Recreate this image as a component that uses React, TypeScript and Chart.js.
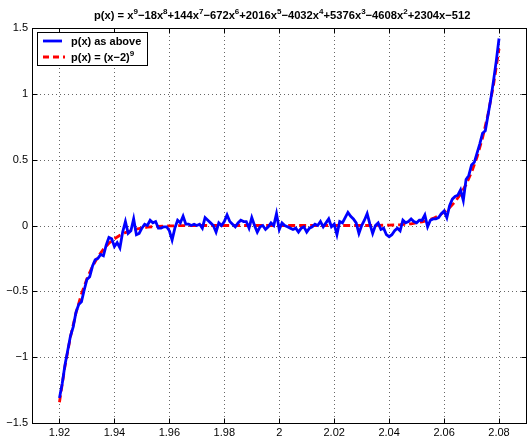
import React, { useEffect, useRef } from "react";
import { Chart, registerables } from "chart.js";

Chart.register(...registerables);

// ---- data ----
const X_START = 1.92;
const X_STEP = 0.001;
const BLUE_VALUES = [
  -1.31, -1.2, -1.06, -0.95, -0.84, -0.77, -0.66, -0.6, -0.58, -0.49,
  -0.41, -0.39, -0.31, -0.26, -0.25, -0.22, -0.23, -0.15, -0.09, -0.1,
  -0.16, -0.13, -0.17, -0.05, 0.03, -0.06, -0.04, 0.05, -0.07, -0.06,
  -0.02, 0.01, 0.0, 0.04, 0.02, 0.03, -0.02, -0.02, -0.01, -0.01,
  -0.04, -0.11, -0.02, 0.04, 0.02, 0.07, 0.01, 0.01, 0.0, 0.01,
  0.0, 0.01, -0.02, 0.06, 0.04, 0.02, 0.0, -0.05, 0.02, 0.0,
  0.03, 0.08, 0.03, 0.01, -0.01, 0.02, 0.04, 0.03, 0.03, -0.02,
  0.06, 0.0, -0.05, -0.01, 0.0, -0.03, -0.01, 0.02, 0.0, 0.09,
  -0.03, 0.02, 0.0, -0.01, -0.02, -0.03, -0.02, -0.05, -0.02, -0.01,
  -0.05, -0.02, -0.01, 0.01, 0.0, 0.03, -0.01, 0.02, 0.05, -0.01,
  0.01, -0.07, 0.03, 0.02, 0.06, 0.1, 0.07, 0.05, 0.02, -0.06,
  0.0, 0.04, 0.09, 0.01, -0.06, 0.0, 0.02, -0.03, -0.02, -0.07,
  -0.085, -0.07, -0.04, -0.02, -0.04, 0.04, 0.02, 0.03, 0.05, 0.03,
  0.02, 0.04, 0.04, 0.08, -0.01, 0.04, 0.05, 0.05, 0.06, 0.09,
  0.11, 0.06, 0.15, 0.2, 0.22, 0.23, 0.27, 0.19, 0.35, 0.38,
  0.46, 0.48, 0.55, 0.62, 0.7, 0.72, 0.84, 0.96, 1.1, 1.25,
  1.42,
];
const RED_X_STEP = 0.002;
const RED_VALUES = [
  -1.342, -1.069, -0.846, -0.665, -0.52, -0.404, -0.311, -0.238, -0.18, -0.135,
  -0.101, -0.074, -0.054, -0.039, -0.028, -0.02, -0.013, -0.009, -0.006, -0.004,
  -0.003, -0.002, -0.001, -0.001,
  0, 0, 0, 0, 0, 0, 0, 0, 0, 0, 0,
  0, 0, 0, 0, 0, 0, 0, 0, 0, 0, 0,
  0, 0, 0, 0, 0, 0, 0, 0, 0, 0, 0,
  0.001, 0.001, 0.002, 0.003,
  0.004, 0.006, 0.009, 0.013, 0.02, 0.028, 0.039, 0.054, 0.074, 0.101,
  0.135, 0.18, 0.238, 0.311, 0.404, 0.52, 0.665, 0.846, 1.069, 1.342,
];
const X_TICKS = [1.92, 1.94, 1.96, 1.98, 2.0, 2.02, 2.04, 2.06, 2.08];
const Y_TICKS = [-1.5, -1, -0.5, 0, 0.5, 1, 1.5];
const X_MIN = 1.91;
const X_MAX = 2.09;
const Y_MIN = -1.5;
const Y_MAX = 1.5;

const TITLE_PARTS: [string, boolean][] = [
  ["p(x) = x", false], ["9", true],
  ["\u221218x", false], ["8", true],
  ["+144x", false], ["7", true],
  ["\u2212672x", false], ["6", true],
  ["+2016x", false], ["5", true],
  ["\u22124032x", false], ["4", true],
  ["+5376x", false], ["3", true],
  ["\u22124608x", false], ["2", true],
  ["+2304x\u2212512", false],
];
const LEGEND_1: [string, boolean][] = [["p(x) as above", false]];
const LEGEND_2: [string, boolean][] = [["p(x) = (x\u22122)", false], ["9", true]];

const FONT = '"Liberation Sans", Arial, Helvetica, sans-serif';
const BLUE = "#0000ff";
const RED = "#ff0000";

function fmtNum(v: number): string {
  const s = String(Number(v.toFixed(2)));
  return s.startsWith("-") ? "\u2212" + s.slice(1) : s;
}

function drawRich(
  ctx: CanvasRenderingContext2D,
  parts: [string, boolean][],
  x: number,
  y: number,
  size: number,
  supSize: number,
  align: "left" | "center"
) {
  const base = `bold ${size}px ${FONT}`;
  const sup = `bold ${supSize}px ${FONT}`;
  let total = 0;
  for (const [t, s] of parts) {
    ctx.font = s ? sup : base;
    total += ctx.measureText(t).width;
  }
  let cx = align === "center" ? x - total / 2 : x;
  ctx.textBaseline = "alphabetic";
  ctx.textAlign = "left";
  for (const [t, s] of parts) {
    ctx.font = s ? sup : base;
    ctx.fillText(t, cx, s ? y - size * 0.42 : y);
    cx += ctx.measureText(t).width;
  }
}

const matlabPlugin = {
  id: "matlabAxes",
  beforeDatasetsDraw(chart: any) {
    const { ctx, chartArea: a, scales } = chart;
    const xs = scales.x;
    const ys = scales.y;
    ctx.save();
    ctx.strokeStyle = "rgba(0,0,0,0.6)";
    ctx.lineWidth = 1;
    ctx.setLineDash([1, 3]);
    for (const v of X_TICKS) {
      const px = Math.round(xs.getPixelForValue(v)) + 0.5;
      ctx.beginPath();
      ctx.moveTo(px, a.top);
      ctx.lineTo(px, a.bottom);
      ctx.stroke();
    }
    for (const v of Y_TICKS) {
      if (v === Y_MIN || v === Y_MAX) continue;
      const py = Math.round(ys.getPixelForValue(v)) + 0.5;
      ctx.beginPath();
      ctx.moveTo(a.left, py);
      ctx.lineTo(a.right, py);
      ctx.stroke();
    }
    ctx.restore();
  },
  afterDatasetsDraw(chart: any) {
    const { ctx, chartArea: a, scales } = chart;
    const xs = scales.x;
    const ys = scales.y;
    ctx.save();
    ctx.strokeStyle = "#000";
    ctx.lineWidth = 1;
    ctx.setLineDash([]);
    const L = Math.round(a.left) + 0.5;
    const R = Math.round(a.right) - 0.5;
    const T = Math.round(a.top) + 0.5;
    const B = Math.round(a.bottom) + 0.5;
    ctx.strokeRect(L, T, R - L, B - T);
    const tl = 5;
    ctx.beginPath();
    for (const v of X_TICKS) {
      const px = Math.round(xs.getPixelForValue(v)) + 0.5;
      ctx.moveTo(px, B);
      ctx.lineTo(px, B - tl);
      ctx.moveTo(px, T);
      ctx.lineTo(px, T + tl);
    }
    for (const v of Y_TICKS) {
      const py = Math.round(ys.getPixelForValue(v)) + 0.5;
      ctx.moveTo(L, py);
      ctx.lineTo(L + tl, py);
      ctx.moveTo(R, py);
      ctx.lineTo(R - tl, py);
    }
    ctx.stroke();

    // legend
    const bx = 37.5, by = 32.5, bw = 110, bh = 33;
    ctx.fillStyle = "#fff";
    ctx.fillRect(bx, by, bw, bh);
    ctx.strokeStyle = "#000";
    ctx.lineWidth = 1;
    ctx.strokeRect(bx, by, bw, bh);
    ctx.lineWidth = 2.8;
    ctx.strokeStyle = BLUE;
    ctx.beginPath();
    ctx.moveTo(43, 41);
    ctx.lineTo(62, 41);
    ctx.stroke();
    ctx.strokeStyle = RED;
    ctx.setLineDash([6, 4]);
    ctx.beginPath();
    ctx.moveTo(43, 57);
    ctx.lineTo(65, 57);
    ctx.stroke();
    ctx.setLineDash([]);
    ctx.fillStyle = "#000";
    drawRich(ctx, LEGEND_1, 71, 45, 11, 8, "left");
    drawRich(ctx, LEGEND_2, 71, 61, 11, 8, "left");

    // title
    drawRich(ctx, TITLE_PARTS, (a.left + a.right) / 2 + 3, 19, 11.2, 8, "center");
    ctx.restore();
  },
};

export default function App() {
  const ref = useRef<HTMLCanvasElement | null>(null);
  useEffect(() => {
    document.body.style.margin = "0";
    const canvas = ref.current;
    if (!canvas) return;
    const blueData = BLUE_VALUES.map((v, i) => ({ x: X_START + i * X_STEP, y: v }));
    const redData = RED_VALUES.map((v, i) => ({ x: X_START + i * RED_X_STEP, y: v }));
    const chart = new Chart(canvas, {
      type: "line",
      data: {
        datasets: [
          {
            label: "p(x) as above",
            data: blueData,
            borderColor: BLUE,
            borderWidth: 2.8,
            pointRadius: 0,
            tension: 0,
            fill: false,
          },
          {
            label: "p(x) = (x\u22122)\u2079",
            data: redData,
            borderColor: RED,
            borderWidth: 2.8,
            borderDash: [7, 4],
            pointRadius: 0,
            tension: 0,
            fill: false,
          },
        ],
      },
      options: {
        animation: false,
        responsive: false,
        devicePixelRatio: 1,
        layout: { padding: { top: 28, right: 2.5, left: 0, bottom: 0 } },
        plugins: {
          legend: { display: false },
          title: { display: false },
          tooltip: { enabled: false },
        },
        scales: {
          x: {
            type: "linear",
            min: X_MIN,
            max: X_MAX,
            grid: { display: false, drawTicks: false },
            border: { display: false },
            afterBuildTicks: (s: any) => {
              s.ticks = X_TICKS.map((v) => ({ value: v }));
            },
            afterFit: (s: any) => {
              s.height = 14;
            },
            ticks: {
              autoSkip: false,
              maxRotation: 0,
              padding: 3,
              color: "#000",
              font: { family: FONT, size: 11 },
              callback: (v: any) => fmtNum(Number(v)),
            },
          },
          y: {
            type: "linear",
            min: Y_MIN,
            max: Y_MAX,
            grid: { display: false, drawTicks: false },
            border: { display: false },
            afterBuildTicks: (s: any) => {
              s.ticks = Y_TICKS.map((v) => ({ value: v }));
            },
            afterFit: (s: any) => {
              s.width = 32;
            },
            ticks: {
              autoSkip: false,
              padding: 4,
              color: "#000",
              font: { family: FONT, size: 11 },
              callback: (v: any) => fmtNum(Number(v)),
            },
          },
        },
      } as any,
      plugins: [matlabPlugin as any],
    });
    return () => chart.destroy();
  }, []);
  return (
    <div style={{ position: "fixed", left: 0, top: 0, width: 529, height: 437, background: "#fff" }}>
      <canvas ref={ref} width={529} height={437} style={{ display: "block" }} />
    </div>
  );
}
